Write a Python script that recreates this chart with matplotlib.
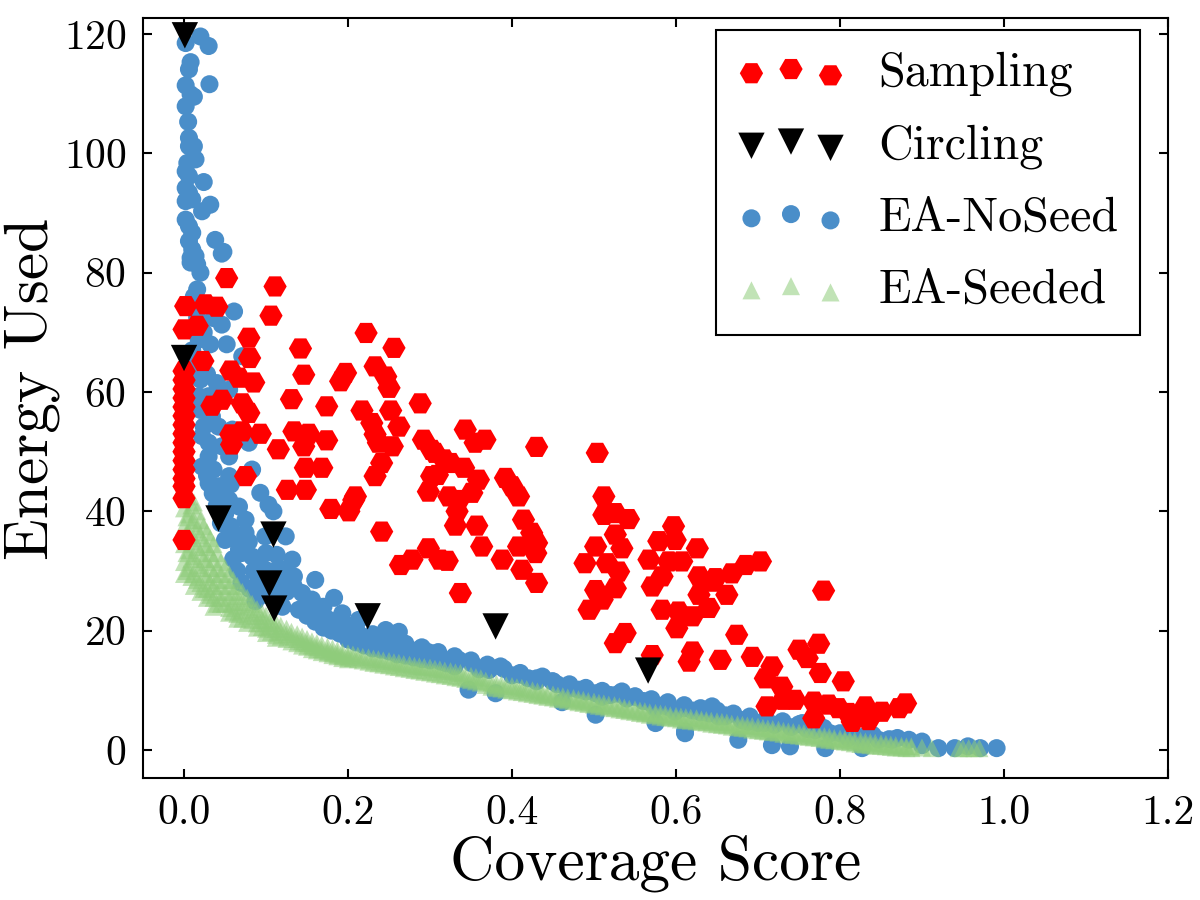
import numpy as np
import matplotlib
matplotlib.use("Agg")
import matplotlib.pyplot as plt

plt.rcParams["font.family"] = ["cmr10", "DejaVu Serif"]
plt.rcParams["mathtext.fontset"] = "cm"
plt.rcParams["axes.formatter.use_mathtext"] = True

# Sampling (red hexagons)
samp_x = [0.052, 0.111, 0.002, 0.026, 0.040, 0.106, 0.000, 0.016, 0.222, 0.079,
          0.142, 0.256, 0.080, 0.023, 0.057, 0.146, 0.197, 0.191, 0.233, 0.246,
          0.067, 0.085, 0.250, 0.131, 0.174, 0.288, 0.034, 0.046, 0.071, 0.079,
          0.217, 0.229, 0.252, 0.262, 0.057, 0.071, 0.093, 0.058, 0.134, 0.152,
          0.174, 0.146, 0.115, 0.233, 0.237, 0.254, 0.292, 0.302, 0.148, 0.168,
          0.075, 0.233, 0.241, 0.302, 0.126, 0.148, 0.209, 0.298, 0.179, 0.207,
          0.201, 0.000, 0.241, 0.298, 0.264, 0.278, 0.312, 0.343, 0.355, 0.367,
          0.430, 0.504, 0.306, 0.317, 0.325, 0.341, 0.309, 0.359, 0.351, 0.323,
          0.335, 0.333, 0.392, 0.400, 0.408, 0.512, 0.512, 0.526, 0.542, 0.526,
          0.331, 0.357, 0.414, 0.424, 0.430, 0.597, 0.579, 0.599, 0.626, 0.363,
          0.408, 0.502, 0.534, 0.429, 0.412, 0.430, 0.321, 0.388, 0.337, 0.489,
          0.516, 0.530, 0.502, 0.526, 0.510, 0.494, 0.538, 0.526, 0.571, 0.567,
          0.591, 0.607, 0.583, 0.571, 0.628, 0.644, 0.628, 0.640, 0.583, 0.603,
          0.620, 0.601, 0.620, 0.616, 0.654, 0.648, 0.668, 0.685, 0.703, 0.662,
          0.780, 0.674, 0.693, 0.717, 0.709, 0.750, 0.760, 0.774, 0.776, 0.804,
          0.711, 0.729, 0.731, 0.745, 0.768, 0.768, 0.786, 0.798, 0.810, 0.815,
          0.831, 0.835, 0.851, 0.872, 0.880,
          0.0, 0.0, 0.0, 0.0, 0.0, 0.0, 0.0, 0.0, 0.0, 0.0, 0.0, 0.0, 0.0, 0.0, 0.0]
samp_y = [79.1, 77.7, 74.4, 74.7, 74.3, 72.8, 70.5, 71.1, 69.9, 69.1,
          67.3, 67.4, 65.7, 65.2, 63.6, 62.9, 63.2, 61.8, 64.3, 62.6,
          62.4, 61.6, 60.7, 58.8, 57.6, 58.1, 57.7, 58.7, 58.1, 56.5,
          56.9, 54.8, 56.9, 54.2, 52.9, 53.4, 53.0, 51.2, 53.4, 53.0,
          51.9, 50.9, 50.4, 52.9, 51.5, 50.9, 52.0, 50.3, 47.3, 47.3,
          45.9, 45.9, 48.1, 45.9, 43.6, 43.6, 42.5, 43.3, 40.4, 41.9,
          40.0, 35.2, 36.6, 33.8, 31.0, 31.9, 31.9, 53.7, 51.5, 52.0,
          50.8, 49.8, 49.8, 48.7, 48.1, 47.3, 46.1, 45.3, 43.1, 42.5,
          41.9, 40.0, 45.6, 44.2, 42.5, 42.5, 39.4, 39.7, 38.7, 36.1,
          37.6, 37.6, 38.6, 36.4, 34.7, 37.5, 35.0, 35.2, 33.8, 34.1,
          34.1, 34.1, 33.8, 33.0, 30.2, 28.0, 31.7, 31.9, 26.3, 31.3,
          31.3, 29.9, 26.8, 27.1, 25.2, 23.5, 19.6, 17.9, 15.9, 31.9,
          31.6, 31.6, 29.1, 27.4, 29.1, 28.2, 26.0, 23.8, 23.5, 23.2,
          22.4, 20.4, 16.5, 14.8, 15.1, 28.8, 29.6, 31.0, 31.6, 26.0,
          26.7, 19.3, 15.6, 14.0, 12.0, 16.8, 15.4, 17.8, 12.9, 11.5,
          7.3, 10.6, 8.4, 8.4, 8.1, 5.3, 7.6, 7.0, 6.2, 4.7,
          7.3, 5.0, 6.4, 7.0, 7.8,
          63.5, 62.0, 60.5, 59.0, 57.5, 56.0, 54.5, 53.0, 51.5, 50.0, 48.5, 47.0, 45.5, 44.2, 42.2]

# Circling (black triangles)
circ_x = [0.001, 0.000, 0.042, 0.109, 0.104, 0.110, 0.224, 0.380, 0.566]
circ_y = [119.8, 65.7, 38.8, 36.1, 27.9, 23.7, 22.4, 20.7, 13.3]

# EA-NoSeed (blue circles)
noseed_x = [0.002, 0.020, 0.030, 0.008, 0.006, 0.002, 0.031, 0.008, 0.012, 0.002,
            0.005, 0.006, 0.006, 0.012, 0.004, 0.014, 0.002, 0.006, 0.024, 0.002,
            0.006, 0.002, 0.010, 0.032, 0.022, 0.002, 0.006, 0.010, 0.038, 0.048,
            0.006, 0.010, 0.008, 0.016, 0.014, 0.046, 0.008, 0.020, 0.016, 0.061,
            0.036, 0.046, 0.018, 0.032, 0.052, 0.071, 0.016, 0.020, 0.018, 0.030,
            0.055, 0.012, 0.010, 0.016, 0.012, 0.024, 0.010, 0.014, 0.028, 0.040,
            0.020, 0.034, 0.024, 0.042, 0.059, 0.022, 0.030, 0.046, 0.055, 0.079,
            0.030, 0.022, 0.036, 0.055, 0.030, 0.083, 0.093, 0.050, 0.042, 0.046,
            0.057, 0.103, 0.109, 0.055, 0.067, 0.075, 0.057, 0.075, 0.050, 0.079,
            0.067, 0.083, 0.091, 0.099, 0.124, 0.113, 0.132, 0.120, 0.099, 0.091,
            0.134, 0.134, 0.160, 0.144, 0.156, 0.170, 0.183, 0.193, 0.177, 0.213,
            0.246, 0.262, 0.201, 0.225, 0.246, 0.266, 0.286, 0.302, 0.313, 0.087,
            0.065, 0.070, 0.080, 0.060, 0.100, 0.110, 0.120, 0.105, 0.115, 0.125,
            0.140, 0.150, 0.160, 0.170, 0.180, 0.190, 0.200, 0.210, 0.220, 0.230,
            0.240, 0.250, 0.260, 0.270, 0.280, 0.290, 0.300, 0.045, 0.050, 0.060,
            0.065, 0.070, 0.085, 0.095, 0.100, 0.110, 0.120, 0.040, 0.035, 0.028,
            0.296, 0.306, 0.335, 0.351, 0.372, 0.386, 0.410, 0.437, 0.449, 0.465,
            0.481, 0.502, 0.510, 0.534, 0.550, 0.575, 0.599, 0.611, 0.644, 0.652,
            0.347, 0.380, 0.461, 0.502, 0.575, 0.320, 0.330, 0.360, 0.400, 0.420,
            0.430, 0.455, 0.470, 0.490, 0.520, 0.540, 0.560, 0.570, 0.585, 0.590,
            0.610, 0.620, 0.630, 0.640, 0.660, 0.611, 0.676, 0.717, 0.739, 0.754,
            0.782, 0.788, 0.810, 0.827, 0.847, 0.864, 0.884, 0.900, 0.920, 0.940,
            0.956, 0.971, 0.991, 0.660, 0.688, 0.708, 0.720, 0.740, 0.760, 0.770,
            0.800, 0.830, 0.860, 0.700, 0.680,
            0.150, 0.160, 0.170, 0.190, 0.200, 0.210, 0.230, 0.250, 0.270, 0.290,
            0.310, 0.330, 0.350, 0.370, 0.390, 0.410, 0.430, 0.450, 0.470, 0.490,
            0.510, 0.530, 0.550, 0.570, 0.590, 0.610, 0.630, 0.650, 0.670, 0.690,
            0.710, 0.730, 0.750, 0.780, 0.810, 0.840, 0.870, 0.900]
noseed_y = [118.5, 119.6, 118.0, 115.3, 114.1, 111.4, 111.6, 109.9, 109.5, 107.9,
            105.3, 102.6, 101.2, 101.2, 98.4, 99.0, 97.0, 96.2, 95.2, 94.2,
            93.4, 92.0, 92.3, 91.4, 90.3, 88.9, 87.8, 86.7, 85.5, 83.5,
            85.3, 83.9, 82.5, 81.4, 82.8, 83.2, 81.7, 80.0, 77.2, 73.5,
            72.4, 71.3, 68.8, 68.0, 68.0, 66.0, 64.0, 62.1, 59.3, 59.3,
            60.4, 76.0, 74.5, 72.5, 70.5, 70.0, 67.0, 65.5, 63.0, 61.5,
            57.0, 55.9, 54.2, 54.2, 53.7, 52.6, 51.5, 50.9, 49.2, 51.5,
            49.2, 47.5, 47.0, 45.9, 44.7, 47.0, 43.1, 42.5, 44.2, 44.2,
            44.5, 41.1, 40.0, 41.9, 40.8, 38.6, 37.5, 36.4, 35.2, 34.9,
            33.6, 32.4, 31.9, 35.8, 35.8, 32.7, 31.9, 30.2, 30.2, 28.5,
            29.1, 27.4, 28.5, 26.3, 25.2, 24.0, 25.5, 22.9, 21.8, 21.8,
            20.1, 19.8, 20.1, 19.0, 18.5, 17.9, 16.8, 16.2, 14.8, 24.9,
            30.0, 28.0, 27.0, 32.0, 26.0, 25.0, 24.0, 28.0, 27.0, 26.5,
            23.5, 22.5, 21.5, 20.5, 20.0, 19.5, 18.5, 18.0, 17.5, 17.0,
            16.8, 16.5, 16.0, 15.8, 15.5, 15.2, 15.0, 38.0, 39.5, 36.0,
            35.0, 33.0, 30.0, 27.0, 33.0, 30.0, 28.5, 41.0, 43.0, 46.0,
            16.5, 15.7, 15.1, 14.5, 13.4, 14.0, 12.9, 12.3, 11.5, 10.6,
            10.1, 9.5, 8.9, 9.8, 8.9, 7.0, 6.4, 3.1, 7.3, 5.6,
            10.1, 9.5, 8.0, 5.9, 4.5, 14.5, 14.0, 13.5, 12.5, 12.0,
            11.5, 11.0, 10.3, 9.8, 9.2, 8.6, 8.2, 7.8, 7.5, 7.2,
            7.0, 6.6, 6.3, 6.1, 5.8, 2.8, 1.7, 0.8, 0.6, 4.5,
            0.3, 2.8, 2.0, 0.3, 1.7, 1.7, 1.7, 0.8, 0.3, 0.3,
            0.6, 0.3, 0.3, 5.6, 4.7, 4.5, 4.2, 3.8, 3.5, 3.3,
            2.8, 2.3, 1.8, 4.5, 5.0,
            24.0, 23.2, 22.6, 21.2, 20.8, 20.2, 19.4, 18.6, 17.8, 17.2,
            16.4, 15.7, 15.0, 14.3, 13.6, 12.6, 12.0, 11.5, 11.0, 10.4,
            9.9, 9.4, 9.0, 8.5, 8.0, 7.5, 7.0, 6.6, 6.1, 5.6,
            5.2, 4.8, 4.3, 3.7, 3.1, 2.5, 2.0, 1.4]

# EA-Seeded (green triangles)
seeded_x = [0.000, 0.000, 0.000, 0.000, 0.000,
            0.006, 0.006, 0.006, 0.006, 0.006,
            0.012, 0.012, 0.012, 0.012, 0.012, 0.012,
            0.020, 0.020, 0.020, 0.020, 0.020, 0.020,
            0.028, 0.028, 0.028, 0.028, 0.028, 0.028,
            0.036, 0.036, 0.036, 0.036, 0.036, 0.036,
            0.045, 0.045, 0.045, 0.045, 0.045,
            0.055, 0.055, 0.055, 0.055, 0.055,
            0.065, 0.065, 0.065, 0.065, 0.065,
            0.077, 0.077, 0.077, 0.077,
            0.089, 0.089, 0.089, 0.089,
            0.100, 0.100, 0.100, 0.100,
            0.112, 0.112, 0.112, 0.112,
            0.125, 0.125, 0.125,
            0.138, 0.138, 0.138,
            0.150, 0.150, 0.150,
            0.162, 0.162, 0.162,
            0.175, 0.175, 0.175,
            0.187, 0.187, 0.187,
            0.200, 0.200, 0.200,
            0.212, 0.212, 0.225, 0.225, 0.237, 0.237, 0.250, 0.250,
            0.262, 0.262, 0.275, 0.275, 0.287, 0.287, 0.300, 0.300,
            0.312, 0.312, 0.325, 0.325, 0.337, 0.337, 0.350, 0.350,
            0.362, 0.362, 0.375, 0.375, 0.387, 0.387, 0.400, 0.400,
            0.412, 0.412, 0.425, 0.425, 0.437, 0.437, 0.450, 0.450,
            0.462, 0.462, 0.475, 0.475, 0.487, 0.487, 0.500, 0.500,
            0.512, 0.512, 0.525, 0.525, 0.537, 0.537, 0.550, 0.550,
            0.562, 0.562, 0.575, 0.575, 0.587, 0.587, 0.600, 0.600,
            0.612, 0.612, 0.625, 0.625, 0.637, 0.637, 0.650, 0.650,
            0.662, 0.662, 0.675, 0.675, 0.687, 0.687, 0.700, 0.700,
            0.712, 0.712, 0.725, 0.725, 0.737, 0.737, 0.750, 0.750,
            0.762, 0.762, 0.775, 0.775, 0.787, 0.787, 0.800, 0.800,
            0.812, 0.812, 0.825, 0.825, 0.837, 0.837, 0.850, 0.850,
            0.862, 0.862, 0.875, 0.875, 0.887, 0.887,
            0.900, 0.912, 0.945, 0.957, 0.970,
            0.003, 0.003, 0.003, 0.003,
            0.009, 0.009, 0.009, 0.009, 0.009,
            0.016, 0.016, 0.016, 0.016, 0.016,
            0.024, 0.024, 0.024, 0.024, 0.024,
            0.032, 0.032, 0.032, 0.032, 0.032,
            0.040, 0.040, 0.040, 0.040, 0.040,
            0.050, 0.050, 0.050, 0.050,
            0.060, 0.060, 0.060, 0.060,
            0.071, 0.071, 0.071, 0.071,
            0.083, 0.083, 0.083, 0.095, 0.095, 0.095,
            0.106, 0.106, 0.106, 0.118, 0.118, 0.118,
            0.131, 0.131, 0.131, 0.144, 0.144, 0.144,
            0.156, 0.156, 0.156, 0.168, 0.168, 0.168,
            0.181, 0.181, 0.181, 0.193, 0.193, 0.193,
            0.206, 0.206, 0.218, 0.218, 0.231, 0.231, 0.243, 0.243,
            0.256, 0.256, 0.268, 0.268, 0.281, 0.281, 0.293, 0.293,
            0.306, 0.306, 0.318, 0.318, 0.331, 0.331, 0.343, 0.343,
            0.356, 0.356, 0.368, 0.368, 0.381, 0.381, 0.393, 0.393,
            0.406, 0.406, 0.418, 0.418, 0.431, 0.431, 0.443, 0.443,
            0.456, 0.456, 0.468, 0.468, 0.481, 0.481, 0.493, 0.493,
            0.506, 0.506, 0.518, 0.518, 0.531, 0.531, 0.543, 0.543,
            0.556, 0.556, 0.568, 0.568, 0.581, 0.581, 0.593, 0.593,
            0.606, 0.606, 0.618, 0.618, 0.631, 0.631, 0.643, 0.643,
            0.656, 0.656, 0.668, 0.668, 0.681, 0.681, 0.693, 0.693,
            0.706, 0.706, 0.718, 0.718, 0.731, 0.731, 0.743, 0.743,
            0.756, 0.756, 0.768, 0.768, 0.781, 0.781, 0.793, 0.793,
            0.806, 0.806, 0.818, 0.818, 0.831, 0.831, 0.843, 0.843,
            0.856, 0.856, 0.868, 0.868, 0.881, 0.881, 0.950, 0.964]
seeded_y = [40.5, 37.5, 34.5, 31.5, 29.5,
            42.5, 39.5, 36.5, 33.5, 30.5,
            41.5, 38.5, 35.5, 32.5, 29.5, 27.5,
            38.5, 36.0, 33.0, 30.5, 28.0, 26.5,
            36.5, 34.0, 31.5, 29.0, 27.0, 25.5,
            34.5, 32.0, 29.5, 27.5, 25.5, 24.0,
            31.5, 29.5, 27.5, 25.5, 24.5,
            29.5, 27.5, 25.5, 23.8, 23.0,
            27.5, 25.8, 24.2, 22.8, 22.0,
            25.5, 24.0, 22.5, 21.3,
            23.6, 22.4, 21.2, 20.5,
            22.5, 21.3, 20.3, 19.6,
            21.3, 20.3, 19.3, 18.8,
            20.3, 19.4, 18.6,
            19.4, 18.6, 17.9,
            18.6, 17.9, 17.3,
            17.9, 17.2, 16.7,
            17.3, 16.6, 16.2,
            16.7, 16.1, 15.7,
            16.2, 15.6, 15.2,
            15.8, 15.2, 15.5, 14.8, 15.2, 14.5, 14.9, 14.2,
            14.6, 13.9, 14.3, 13.6, 14.0, 13.3, 13.8, 13.0,
            13.5, 12.7, 13.2, 12.4, 12.9, 12.1, 12.4, 11.7,
            12.0, 11.3, 11.3, 10.6, 11.0, 10.3, 10.7, 10.0,
            10.4, 9.7, 10.0, 9.4, 9.6, 9.1, 9.3, 8.8,
            9.0, 8.5, 8.7, 8.2, 8.4, 7.9, 8.1, 7.6,
            7.8, 7.3, 7.5, 7.0, 7.1, 6.7, 6.8, 6.4,
            6.5, 6.1, 6.2, 5.8, 6.0, 5.5, 5.7, 5.3,
            5.5, 5.0, 5.3, 4.8, 5.0, 4.6, 4.8, 4.3,
            4.6, 4.1, 4.3, 3.8, 4.1, 3.6, 3.9, 3.3,
            3.6, 3.1, 3.4, 2.9, 3.1, 2.6, 2.9, 2.4,
            2.7, 2.2, 2.4, 2.0, 2.2, 1.7, 1.9, 1.5,
            1.7, 1.3, 1.5, 1.0, 1.3, 0.8, 1.1, 0.7,
            0.9, 0.5, 0.7, 0.4, 0.6, 0.3,
            0.4, 0.3, 0.3, 0.3, 0.3,
            39.0, 36.0, 33.0, 30.0,
            41.0, 38.0, 35.0, 32.0, 29.0,
            40.0, 37.0, 34.0, 31.0, 28.5,
            37.5, 34.5, 32.0, 29.5, 27.0,
            35.5, 33.0, 30.5, 28.0, 26.0,
            33.0, 30.5, 28.5, 26.5, 24.5,
            30.5, 28.5, 26.5, 24.5,
            28.5, 26.5, 24.8, 23.2,
            26.5, 24.8, 23.4, 22.0,
            24.5, 23.0, 21.8, 23.0, 21.8, 20.6,
            21.8, 20.8, 19.8, 20.8, 19.8, 19.0,
            19.8, 19.0, 18.2, 19.0, 18.2, 17.5,
            18.2, 17.5, 16.9, 17.6, 16.9, 16.4,
            17.0, 16.3, 15.9, 16.4, 15.8, 15.4,
            16.0, 15.4, 15.6, 15.0, 15.3, 14.6, 15.0, 14.3,
            14.7, 14.0, 14.4, 13.7, 14.1, 13.4, 13.9, 13.1,
            13.6, 12.8, 13.3, 12.5, 13.0, 12.2, 12.6, 11.9,
            12.2, 11.5, 11.6, 10.9, 11.1, 10.4, 10.8, 10.1,
            10.5, 9.8, 10.2, 9.5, 9.8, 9.2, 9.4, 8.9,
            9.1, 8.6, 8.8, 8.3, 8.5, 8.0, 8.2, 7.7,
            7.9, 7.4, 7.6, 7.1, 7.3, 6.8, 6.9, 6.5,
            6.6, 6.2, 6.3, 5.9, 6.1, 5.6, 5.8, 5.4,
            5.6, 5.1, 5.4, 4.9, 5.1, 4.7, 4.9, 4.4,
            4.7, 4.2, 4.4, 3.9, 4.2, 3.7, 4.0, 3.4,
            3.7, 3.2, 3.5, 3.0, 3.2, 2.7, 3.0, 2.5,
            2.8, 2.3, 2.5, 2.1, 2.3, 1.8, 2.0, 1.6,
            1.8, 1.4, 1.6, 1.1, 1.4, 0.9, 1.2, 0.7,
            1.0, 0.6, 0.8, 0.4, 0.6, 0.3, 0.3, 0.3]

fig = plt.figure(figsize=(8, 6), dpi=150)
ax = fig.add_axes([0.1192, 0.1356, 0.8541, 0.8444])

ax.scatter(noseed_x, noseed_y, s=75, marker="o", color="#4a8ec9", edgecolors="none",
           label="EA-NoSeed", zorder=2)
ax.scatter(seeded_x, seeded_y, s=75, marker="^", color="#8fcc7b", alpha=0.55,
           edgecolors="none", label="EA-Seeded", zorder=3)
ax.scatter(samp_x, samp_y, s=125, marker="H", color="#ff0000", edgecolors="none",
           label="Sampling", zorder=4)
ax.scatter(circ_x, circ_y, s=160, marker="v", color="black", edgecolors="none",
           label="Circling", zorder=5)

ax.set_xlim(-0.05, 1.2)
ax.set_ylim(-4.7, 122.7)
ax.set_xticks(np.arange(0, 1.21, 0.2))
ax.set_xticklabels(["0.0", "0.2", "0.4", "0.6", "0.8", "1.0", "1.2"])
ax.set_yticks(np.arange(0, 121, 20))
ax.tick_params(direction="in", top=True, right=True, length=4.5, width=1, labelsize=20, pad=8)
for sp in ax.spines.values():
    sp.set_linewidth(1.0)

ax.set_xlabel("Coverage Score", fontsize=29.5, labelpad=1)
ax.set_ylabel("Energy Used", fontsize=29.5)
ax.yaxis.set_label_coords(-0.081, 0.512)

handles, labels = ax.get_legend_handles_labels()
order = [2, 3, 0, 1]
leg = ax.legend([handles[i] for i in order], [labels[i] for i in order],
                loc="upper right", bbox_to_anchor=(1140 / 1200, 1 - 30 / 900),
                bbox_transform=fig.transFigure, borderaxespad=0,
                scatterpoints=3, fontsize=23, fancybox=False, framealpha=1,
                labelspacing=0.58, handlelength=2.25, handletextpad=0.7,
                borderpad=0.45)
leg.get_frame().set_edgecolor("black")
leg.get_frame().set_linewidth(1.0)

fig.savefig("out.png", dpi=150)
